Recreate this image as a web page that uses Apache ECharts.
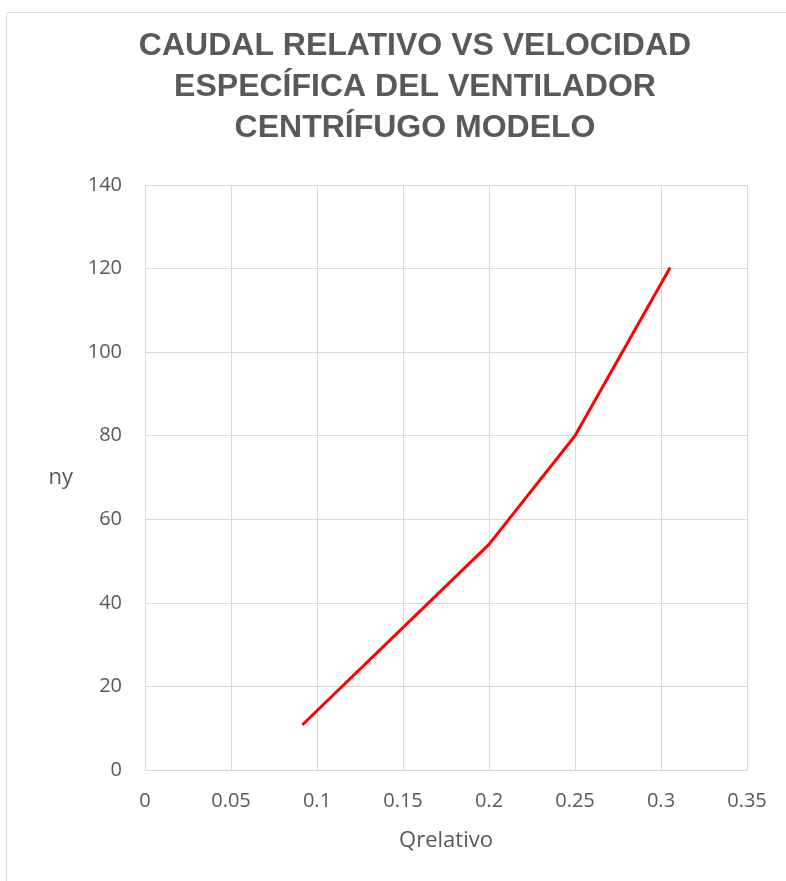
<!DOCTYPE html>
<html>
<head>
<meta charset="utf-8">
<script src="https://cdn.jsdelivr.net/npm/echarts@6/dist/echarts.min.js"></script>
<style>
  html, body { margin: 0; padding: 0; background: #fff; }
  #chart { width: 786px; height: 881px; }
</style>
</head>
<body>
<div id="chart"></div>
<script>
// Relative flow vs specific speed of the model centrifugal fan
const qRelativo = [0.092, 0.2, 0.25, 0.305];
const ny = [11, 54, 80, 120];
const xTicks = [0, 0.05, 0.1, 0.15, 0.2, 0.25, 0.3, 0.35];
const yTicks = [0, 20, 40, 60, 80, 100, 120, 140];

const titleText = 'CAUDAL RELATIVO VS VELOCIDAD\nESPECÍFICA DEL VENTILADOR\nCENTRÍFUGO MODELO';
const xName = 'Qrelativo';
const yName = 'ny';

const points = qRelativo.map((q, i) => [q, ny[i]]);
const labelFont = '"Open Sans", "Liberation Sans", sans-serif';

const chart = echarts.init(document.getElementById('chart'));
chart.setOption({
  animation: false,
  backgroundColor: '#ffffff',
  graphic: [{
    type: 'rect',
    shape: { x: 6.5, y: 12.5, width: 800, height: 900 },
    style: { fill: 'none', stroke: '#d9d9d9', lineWidth: 1 },
    silent: true
  }],
  title: {
    text: titleText,
    left: 410,
    textAlign: 'center',
    top: 21,
    textStyle: {
      fontFamily: '"Liberation Sans", Arial, sans-serif',
      fontWeight: 'bold',
      fontSize: 32,
      lineHeight: 41,
      color: '#595959'
    }
  },
  grid: { left: 145, right: 39, top: 185, bottom: 111 },
  xAxis: {
    type: 'value',
    min: xTicks[0],
    max: xTicks[xTicks.length - 1],
    interval: 0.05,
    name: xName,
    nameLocation: 'middle',
    nameGap: 60,
    nameTextStyle: { fontFamily: labelFont, fontSize: 22, color: '#595959' },
    axisLine: { show: true, lineStyle: { color: '#d9d9d9', width: 1 } },
    axisTick: { show: false },
    axisLabel: {
      fontFamily: labelFont, fontSize: 20, color: '#595959', margin: 21,
      formatter: v => String(+v.toFixed(2))
    },
    splitLine: { show: true, lineStyle: { color: '#d9d9d9', width: 1 } }
  },
  yAxis: {
    type: 'value',
    min: yTicks[0],
    max: yTicks[yTicks.length - 1],
    interval: 20,
    name: yName,
    nameLocation: 'middle',
    nameGap: 72,
    nameRotate: 0,
    nameTextStyle: { fontFamily: labelFont, fontSize: 22, color: '#595959', padding: [9, 0, 0, 0] },
    axisLine: { show: false },
    axisTick: { show: false },
    axisLabel: { fontFamily: labelFont, fontSize: 20, color: '#595959', margin: 23 },
    splitLine: { show: true, lineStyle: { color: '#d9d9d9', width: 1 } }
  },
  series: [{
    type: 'line',
    data: points,
    showSymbol: false,
    symbol: 'none',
    lineStyle: { color: '#ff0000', width: 3, cap: 'round', join: 'round' }
  }]
});
</script>
</body>
</html>
